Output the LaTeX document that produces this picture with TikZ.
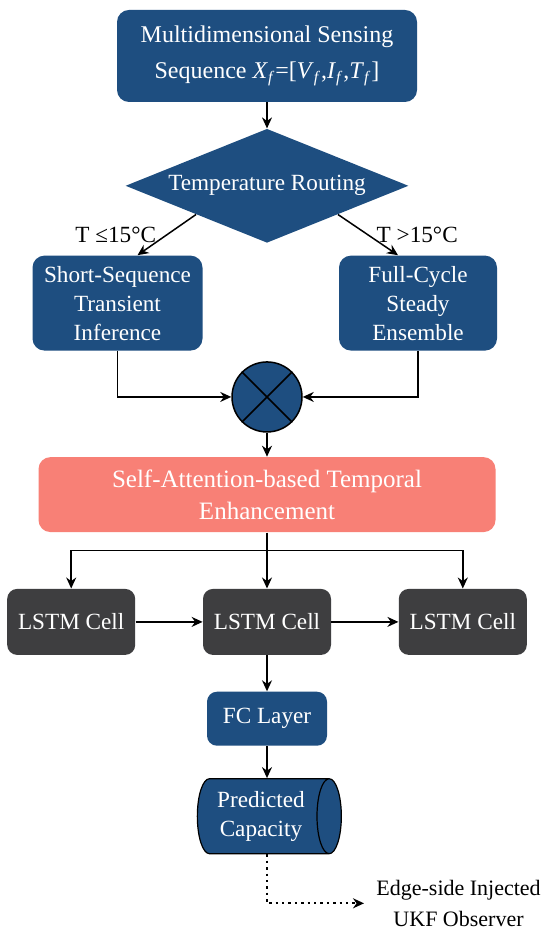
\documentclass[tikz,border=0pt]{standalone}
\usepackage{fontspec}
\setmainfont{Liberation Serif}
\usetikzlibrary{arrows.meta, positioning, shapes.geometric, calc}
\definecolor{navy}{RGB}{30,78,128}
\definecolor{salmon}{RGB}{248,128,118}
\definecolor{charcoal}{RGB}{62,62,64}
\newcommand{\fsig}[1]{\textit{#1}\textsubscript{\textit{f}}}

\begin{document}
\begin{tikzpicture}[
  font=\fontsize{11.6}{14.5}\selectfont,
  node distance=13pt,
  box/.style={rounded corners=6pt, align=center, inner sep=2pt, fill=navy, text=white},
  cell/.style={rounded corners=5pt, align=center, inner sep=2pt, fill=charcoal, text=white, minimum width=64pt, minimum height=33pt},
  arrow/.style={-{Stealth[length=5.5pt, width=5pt]}, line width=0.75pt},
  line/.style={line width=0.75pt}
]
\fill[white] (0,0) rectangle (275pt,-470pt);
\useasboundingbox (0,0) rectangle (275pt,-470pt);

% INPUT
\node[box, minimum width=150pt, minimum height=46pt, font=\fontsize{12}{18}\selectfont] (seq) at (133.5pt,-28pt)
{Multidimensional Sensing\\Sequence \fsig{X}=[\fsig{V},\fsig{I},\fsig{T}]};

% ROUTING
\node[diamond, aspect=2.48, fill=navy, text=white, inner sep=0pt, minimum width=141.5pt, minimum height=57pt, below=13pt of seq] (route) {Temperature Routing};
\draw[arrow] (seq) -- (route);

\node[box, minimum width=85pt, minimum height=47.5pt, below=6pt of route, xshift=-74.75pt] (short)
{Short-Sequence\\Transient\\Inference};
\node[box, minimum width=79pt, minimum height=47.5pt, below=6pt of route, xshift=75.5pt] (full)
{Full-Cycle\\Steady\\Ensemble};
\draw[arrow] (route.south west) -- ([xshift=10pt]short.north) node[midway, left, inner sep=5pt] {T ≤15°C};
\draw[arrow] (route.south east) -- ([xshift=-10pt]full.north) node[midway, right, inner sep=4pt] {T >15°C};

% FUSION
\node[circle, draw, line width=0.75pt, fill=navy, minimum size=35pt, inner sep=0pt, below=59pt of route] (fuse) {};
\draw[line] (fuse.north west) -- (fuse.south east) (fuse.north east) -- (fuse.south west);
\draw[arrow] (short.south) |- (fuse.west);
\draw[arrow] (full.south) |- (fuse.east);

% ATTENTION
\node[box, fill=salmon, minimum width=228.5pt, minimum height=37.5pt, font=\fontsize{12.5}{16}\selectfont, below=12pt of fuse] (attn)
{Self-Attention-based Temporal\\Enhancement};
\draw[arrow] (fuse) -- (attn);

% LSTM
\node[cell, below=28pt of attn] (lstm2) {LSTM Cell};
\node[cell, left=33.5pt of lstm2] (lstm1) {LSTM Cell};
\node[cell, right=33.5pt of lstm2] (lstm3) {LSTM Cell};
\coordinate[below=9pt of attn.south] (split);
\draw[arrow] (attn) -- (lstm2);
\draw[arrow] (split) -| (lstm1.north);
\draw[arrow] (split) -| (lstm3.north);
\draw[arrow] (lstm1) -- (lstm2);
\draw[arrow] (lstm2) -- (lstm3);

% OUTPUT
\node[box, rounded corners=5pt, minimum width=60pt, minimum height=27pt, below=18pt of lstm2] (fc) {FC Layer};
\draw[arrow] (lstm2) -- (fc);
\node[cylinder, shape border rotate=0, aspect=0.45, draw=black, line width=0.6pt, fill=navy, text=white, align=center,
  minimum height=72pt, minimum width=37.5pt, inner sep=1pt, below=16pt of fc, xshift=-3pt] (cap) {Predicted\\Capacity};
\draw[arrow] (fc) -- (fc |- cap.north);

\coordinate[below=24.5pt of cap.south -| fc.south] (bend);
\node[right=52.5pt of bend, align=center, inner sep=2pt, font=\fontsize{11}{15.5}\selectfont] (ukf)
{Edge-side Injected\\UKF Observer};
\draw[arrow, dash pattern=on 1.2pt off 2pt, line width=1pt, shorten >=4pt] (cap.south -| fc.south) |- (ukf.west);

\end{tikzpicture}
\end{document}
